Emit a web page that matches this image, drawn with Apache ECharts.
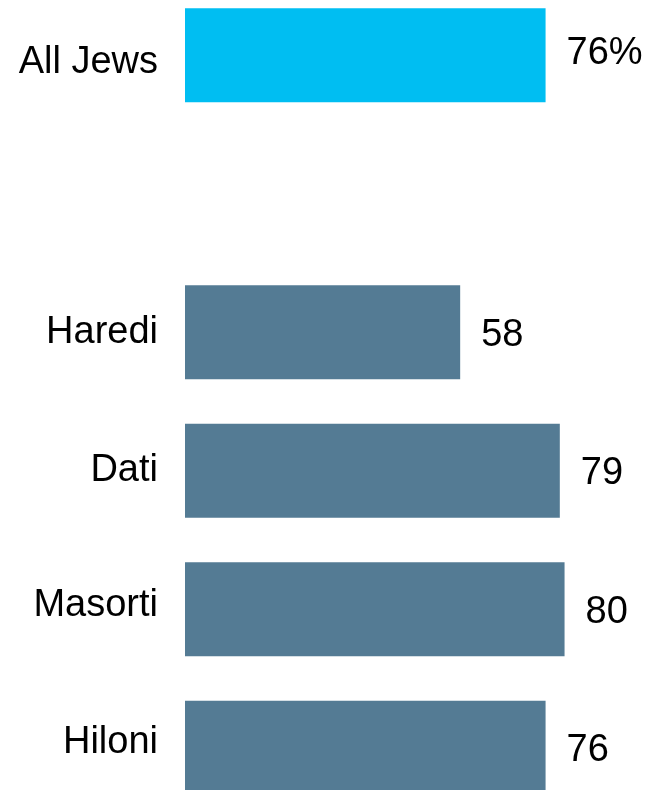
<!DOCTYPE html>
<html>
<head>
<meta charset="utf-8">
<script src="https://cdn.jsdelivr.net/npm/echarts@6/dist/echarts.min.js"></script>
<style>
  html, body { margin: 0; padding: 0; background: #fff; }
  #chart { width: 653px; height: 790px; }
</style>
</head>
<body>
<div id="chart"></div>
<script>
// one blank slot separates the total from the groups
var categories = ['All Jews', '', 'Haredi', 'Dati', 'Masorti', 'Hiloni'];
var values = [76, null, 58, 79, 80, 76];
var suffixes = ['%', '', '', '', '', ''];

var chart = echarts.init(document.getElementById('chart'));

var data = values.map(function (v, i) {
    return {
        value: v,
        itemStyle: { color: i === 0 ? '#00bef2' : '#547b94' },
        label: { formatter: '{c}' + suffixes[i], offset: [0, i === 0 ? -2 : 3] }
    };
});

// small vertical nudges of the category labels, as in the original
var labelStyle = { 'All Jews': 'dn', 'Masorti': 'up', 'Hiloni': 'up2' };

var option = {
    animation: false,
    grid: {
        left: 185, right: 41, top: -14, bottom: -27,
        outerBoundsMode: 'none',
        containLabel: false
    },
    xAxis: {
        type: 'value',
        min: 0,
        max: 90,
        show: false
    },
    yAxis: {
        type: 'category',
        inverse: true,
        data: categories,
        axisLine: { show: false },
        axisTick: { show: false },
        axisLabel: {
            margin: 27,
            fontSize: 38,
            color: '#000',
            fontFamily: 'Liberation Sans, Arial, sans-serif',
            formatter: function (v) {
                var k = labelStyle[v];
                return k ? '{' + k + '|' + v + '}' : v;
            },
            rich: {
                dn: { fontSize: 38, padding: [14, 0, 0, 0] },
                up: { fontSize: 38, padding: [0, 0, 8, 0] },
                up2: { fontSize: 38, padding: [0, 0, 10, 0] }
            }
        }
    },
    series: [{
        type: 'bar',
        barWidth: 94,
        data: data,
        label: {
            show: true,
            position: 'right',
            distance: 21,
            fontSize: 38,
            color: '#000',
            fontFamily: 'Liberation Sans, Arial, sans-serif'
        }
    }]
};

chart.setOption(option);
</script>
</body>
</html>
